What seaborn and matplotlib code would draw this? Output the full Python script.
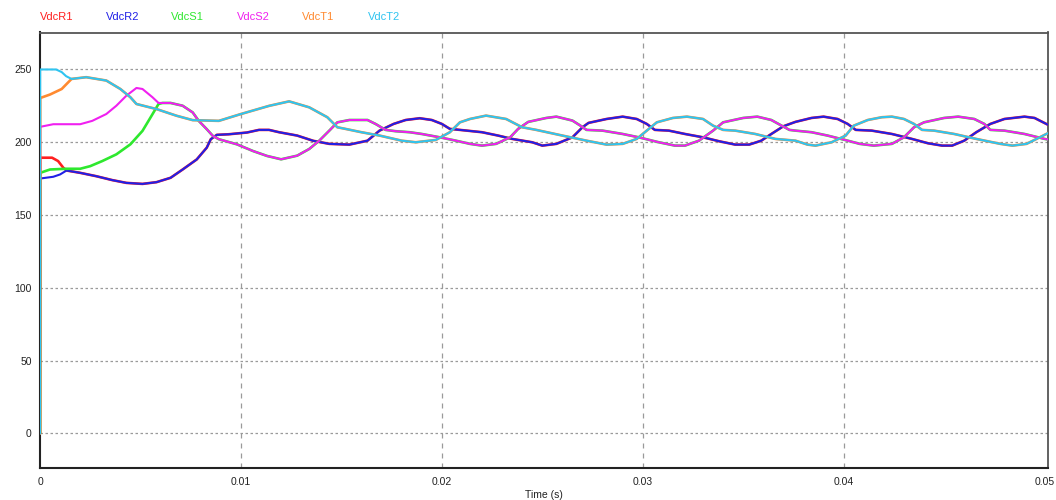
import numpy as np
import pandas as pd
import seaborn as sns
import matplotlib
matplotlib.use("Agg")
import matplotlib.pyplot as plt

# ---- DC-link capacitor voltages (time in ms, voltage in V) ----
r1_t = [0, 0.01, 0.6, 0.9, 1.16, 1.32]
r1_v = [0, 189.4, 189.4, 187.1, 182.5, 180.6]
r2_t = [0, 0.01, 0.66, 1.0, 1.32]
r2_v = [0, 175.1, 176.3, 177.9, 180.6]
r_t = [2.0, 2.8, 3.6, 4.3, 5.1, 5.8, 6.5, 7.1, 7.8, 8.3, 8.5, 8.8, 9.4, 10.3,
       10.9, 11.4, 11.9, 12.8, 13.6, 14.4, 15.4, 16.3, 16.9, 17.6, 18.2, 18.9,
       19.5, 20.0, 20.4, 20.9, 22.0, 22.8, 23.5, 24.5, 25.0, 25.7, 26.5, 27.0,
       27.3, 28.2, 29.0, 29.7, 30.2, 30.6, 31.3, 32.1, 33.0, 33.8, 34.6, 35.3,
       35.9, 36.4, 37.0, 37.6, 38.4, 39.0, 39.7, 40.2, 40.6, 41.4, 42.4, 43.4,
       44.2, 44.9, 45.4, 46.0, 46.6, 47.3, 48.0, 49.0, 49.5, 50.2]
r_v = [179.0, 176.7, 174.0, 172.1, 171.4, 172.6, 175.6, 181.3, 188.2, 196.3,
       202.1, 205.1, 205.5, 206.7, 208.5, 208.5, 206.9, 204.6, 201.0, 198.9,
       198.4, 201.1, 208.0, 212.6, 215.3, 216.5, 215.3, 212.6, 209.2, 208.5,
       206.9, 204.6, 202.3, 200.0, 197.7, 198.9, 203.4, 210.3, 213.3, 216.0,
       217.6, 216.0, 212.6, 208.5, 208.0, 205.7, 203.4, 200.7, 198.4, 198.4,
       201.1, 205.7, 211.0, 214.0, 216.7, 217.6, 216.0, 212.6, 208.5, 208.0,
       205.7, 202.3, 199.3, 197.7, 197.7, 201.1, 206.9, 212.6, 216.0, 217.6,
       216.7, 211.8]

s1_t = [0, 0.01, 0.5, 1.3, 2.0, 2.5, 3.1, 3.8, 4.5, 5.1, 5.5, 5.9, 6.1]
s1_v = [0, 179.0, 181.3, 181.8, 181.8, 183.6, 187.1, 191.7, 198.6, 207.8,
        217.0, 226.3, 227.0]
s2_t = [0, 0.01, 0.66, 2.0, 2.6, 3.3, 3.8, 4.3, 4.8, 5.1, 5.6, 5.9, 6.1]
s2_v = [0, 210.6, 212.4, 212.4, 214.7, 219.4, 225.1, 232.0, 237.3, 236.6,
        230.9, 227.0, 227.0]
s_t = [6.5, 7.1, 7.6, 7.9, 8.3, 8.6, 8.9, 9.8, 10.6, 11.3, 12.0, 12.8, 13.4,
       13.9, 14.4, 14.8, 15.4, 16.3, 16.7, 17.2, 17.7, 18.4, 19.0, 19.9, 20.7,
       21.4, 22.0, 22.7, 23.4, 23.8, 24.3, 25.2, 25.7, 26.5, 26.9, 27.2, 28.0,
       29.0, 29.8, 30.8, 31.6, 32.1, 32.8, 33.5, 34.0, 35.0, 35.7, 36.4, 36.9,
       37.3, 37.6, 38.4, 39.2, 40.2, 40.8, 41.5, 42.4, 43.0, 43.5, 44.0, 45.0,
       45.7, 46.5, 47.0, 47.3, 48.0, 49.0, 50.0, 50.2]
s_v = [227.0, 225.1, 220.5, 214.7, 209.0, 204.4, 202.1, 198.6, 194.0, 190.6,
       188.3, 190.8, 195.4, 201.1, 208.0, 213.7, 215.3, 215.3, 212.6, 208.5,
       207.6, 206.9, 205.7, 203.4, 201.1, 198.9, 197.7, 198.9, 203.4, 209.2,
       214.0, 216.7, 217.6, 214.9, 211.4, 208.5, 208.0, 205.7, 203.4, 200.0,
       197.7, 197.7, 201.1, 208.0, 213.7, 216.7, 217.6, 215.3, 211.5, 208.5,
       208.0, 206.9, 204.6, 201.1, 198.9, 197.7, 198.9, 203.4, 210.3, 213.7,
       216.7, 217.6, 216.0, 212.6, 208.5, 208.0, 205.7, 202.3, 201.8]

t1_t = [0, 0.01, 0.5, 1.08, 1.57]
t1_v = [0, 230.4, 232.8, 236.6, 243.5]
t2_t = [0, 0.01, 0.8, 1.08, 1.3, 1.57]
t2_v = [0, 250.0, 250.0, 248.2, 245.4, 243.5]
t_t = [2.3, 3.3, 4.0, 4.5, 4.8, 5.8, 6.8, 7.6, 8.9, 10.0, 11.4, 12.4, 13.4,
       14.3, 14.8, 15.2, 16.0, 16.9, 18.0, 18.7, 19.7, 20.4, 20.9, 21.4, 22.2,
       23.2, 24.0, 24.7, 26.0, 27.2, 28.2, 29.0, 29.7, 30.2, 30.7, 31.5, 32.2,
       33.0, 33.5, 34.0, 34.6, 35.6, 36.6, 37.6, 38.2, 38.6, 39.4, 40.1, 40.5,
       41.2, 41.9, 42.4, 43.0, 43.5, 43.9, 44.5, 45.5, 46.6, 47.8, 48.4, 49.1,
       49.6, 50.2]
t_v = [244.7, 242.4, 236.6, 230.9, 226.3, 222.8, 218.2, 215.2, 214.7, 219.4,
       225.0, 228.1, 224.0, 217.2, 210.3, 209.2, 206.9, 204.6, 201.1, 200.0,
       201.6, 206.9, 213.7, 216.0, 218.3, 216.0, 210.3, 208.5, 204.6, 201.1,
       198.4, 198.9, 202.3, 208.0, 213.7, 216.7, 217.6, 216.0, 211.4, 208.5,
       208.0, 205.7, 202.3, 201.1, 198.4, 197.7, 200.0, 204.6, 211.4, 215.3,
       217.2, 217.6, 216.0, 212.6, 208.5, 208.0, 205.7, 202.3, 198.9, 197.7,
       198.9, 202.3, 206.5]

names = ["VdcR1", "VdcR2", "VdcS1", "VdcS2", "VdcT1", "VdcT2"]
colors = ["#ff2020", "#2020e6", "#2ee82e", "#f020f0", "#ff8a30", "#30c4f0"]
widths = [1.9, 1.5, 1.9, 1.5, 1.9, 1.5]

series = {
    "VdcR1": (r1_t + r_t, r1_v + r_v),
    "VdcR2": (r2_t + r_t, r2_v + r_v),
    "VdcS1": (s1_t + s_t, s1_v + s_v),
    "VdcS2": (s2_t + s_t, s2_v + s_v),
    "VdcT1": (t1_t + t_t, t1_v + t_v),
    "VdcT2": (t2_t + t_t, t2_v + t_v),
}

frames = []
for name in names:
    tt, vv = series[name]
    frames.append(pd.DataFrame({"time": np.array(tt) / 1000.0,
                                "voltage": vv, "signal": name}))
df = pd.concat(frames, ignore_index=True)

sns.set_style("white")
plt.rcParams["font.family"] = ["Liberation Sans", "DejaVu Sans"]

fig = plt.figure(figsize=(10.56, 5.0), dpi=100)
ax = fig.add_axes([40 / 1056, 32.5 / 500, 1008 / 1056, 435 / 500])

for name, col, lw in zip(names, colors, widths):
    sns.lineplot(data=df[df["signal"] == name], x="time", y="voltage",
                 color=col, linewidth=lw, estimator=None, sort=False,
                 legend=False, ax=ax, zorder=3)

ax.set_xlim(0, 0.05017)
ax.set_ylim(-23.4, 275.4)
ax.set_xticks([0, 0.01, 0.02, 0.03, 0.04, 0.05])
ax.set_xticklabels(["0", "0.01", "0.02", "0.03", "0.04", "0.05"])
ax.set_yticks([0, 50, 100, 150, 200, 250])
ax.tick_params(axis="both", length=0, labelsize=7.5, colors="#222222")
ax.tick_params(axis="x", pad=7)
ax.tick_params(axis="y", pad=6)
ax.set_xlabel("Time (s)", fontsize=7.5, color="#222222", labelpad=2)
ax.set_ylabel("")

for x in [0.01, 0.02, 0.03, 0.04]:
    ax.axvline(x, color="#9a9a9a", lw=0.9, ls=(0, (4, 4)), zorder=0)
for y in [0, 50, 100, 150, 200, 250]:
    ax.axhline(y, color="#9a9a9a", lw=0.9, ls=(0, (2, 2)), zorder=0)

for side in ["top", "right"]:
    ax.spines[side].set_color("#555555")
    ax.spines[side].set_linewidth(1.3)
for side in ["left", "bottom"]:
    ax.spines[side].set_color("#222222")
    ax.spines[side].set_linewidth(1.5)

# coloured signal names above the plot area
for i, (name, col) in enumerate(zip(names, colors)):
    fig.text((40 + i * 65.5) / 1056, 1 - 17 / 500, name, color=col,
             fontsize=8, ha="left", va="center")

fig.savefig("out.png", dpi=100)
